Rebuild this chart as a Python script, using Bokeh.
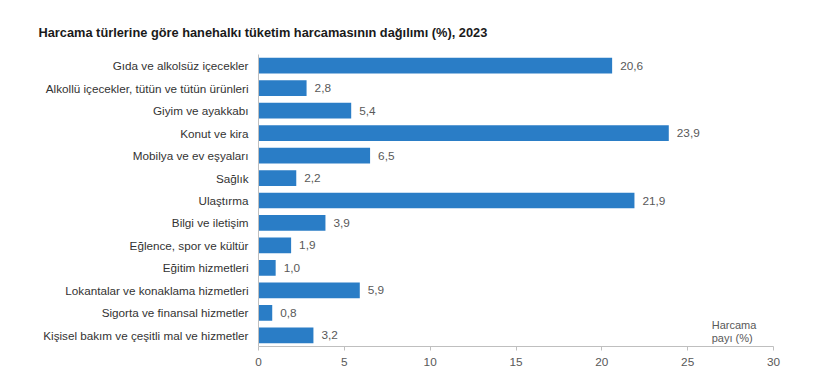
from bokeh.plotting import figure
from bokeh.models import ColumnDataSource, FactorRange, Range1d, Label, Title, FixedTicker
from bokeh.embed import file_html
from bokeh.resources import INLINE
from bokeh.core.properties import value

title_text = "Harcama türlerine göre hanehalkı tüketim harcamasının dağılımı (%), 2023"
categories = [
    "Gıda ve alkolsüz içecekler",
    "Alkollü içecekler, tütün ve tütün ürünleri",
    "Giyim ve ayakkabı",
    "Konut ve kira",
    "Mobilya ve ev eşyaları",
    "Sağlık",
    "Ulaştırma",
    "Bilgi ve iletişim",
    "Eğlence, spor ve kültür",
    "Eğitim hizmetleri",
    "Lokantalar ve konaklama hizmetleri",
    "Sigorta ve finansal hizmetler",
    "Kişisel bakım ve çeşitli mal ve hizmetler",
]
values = [20.6, 2.8, 5.4, 23.9, 6.5, 2.2, 21.9, 3.9, 1.9, 1.0, 5.9, 0.8, 3.2]
x_ticks = [0, 5, 10, 15, 20, 25, 30]
axis_title = ["Harcama", "payı (%)"]

FONT = "Liberation Sans"
BAR = "#2a7dc6"
TXT = "#595959"

src = ColumnDataSource(dict(
    cat=categories,
    val=values,
    lab=[f"{v:.1f}".replace(".", ",") for v in values],
))

p = figure(width=808, height=378, output_backend="svg", toolbar_location=None,
           y_range=FactorRange(factors=list(reversed(categories))),
           x_range=Range1d(0, 30),
           min_border_left=258, min_border_right=35, min_border_top=54, min_border_bottom=32)
p.outline_line_color = None
p.xgrid.visible = False
p.ygrid.visible = False

t = Title(text=title_text, align="left", offset=-220, text_font=FONT, text_font_size="12.8px",
          text_font_style="bold", text_color="#1a1a1a", standoff=29)
p.add_layout(t, "above")

p.hbar(y="cat", right="val", height=0.7, source=src, color=BAR, line_color=None)
p.text(x="val", y="cat", text="lab", source=src, x_offset=8, text_baseline="middle",
       text_font=value(FONT), text_font_size="11.8px", text_color=TXT)

p.xaxis.ticker = FixedTicker(ticks=x_ticks)
p.xaxis.axis_line_color = "#bfbfbf"
p.xaxis.major_tick_line_color = "#bfbfbf"
p.xaxis.major_tick_in = 0
p.xaxis.major_tick_out = 4
p.xaxis.minor_tick_line_color = None
p.xaxis.major_label_text_font = FONT
p.xaxis.major_label_text_font_size = "11.8px"
p.xaxis.major_label_text_color = TXT
p.xaxis.major_label_standoff = 7

p.yaxis.axis_line_color = "#bfbfbf"
p.yaxis.major_tick_line_color = None
p.yaxis.major_tick_out = 0
p.yaxis.major_tick_in = 0
p.yaxis.minor_tick_line_color = None
p.yaxis.major_label_text_font = FONT
p.yaxis.major_label_text_font_size = "11.7px"
p.yaxis.major_label_text_color = "#333333"
p.yaxis.major_label_standoff = 10

for i, line in enumerate(axis_title):
    p.add_layout(Label(x=26.4, y=0.95 - i * 0.58, text=line, text_font=FONT,
                       text_font_size="11px", text_color=TXT, text_baseline="middle"))

open("out.html", "w").write(file_html(p, INLINE))
